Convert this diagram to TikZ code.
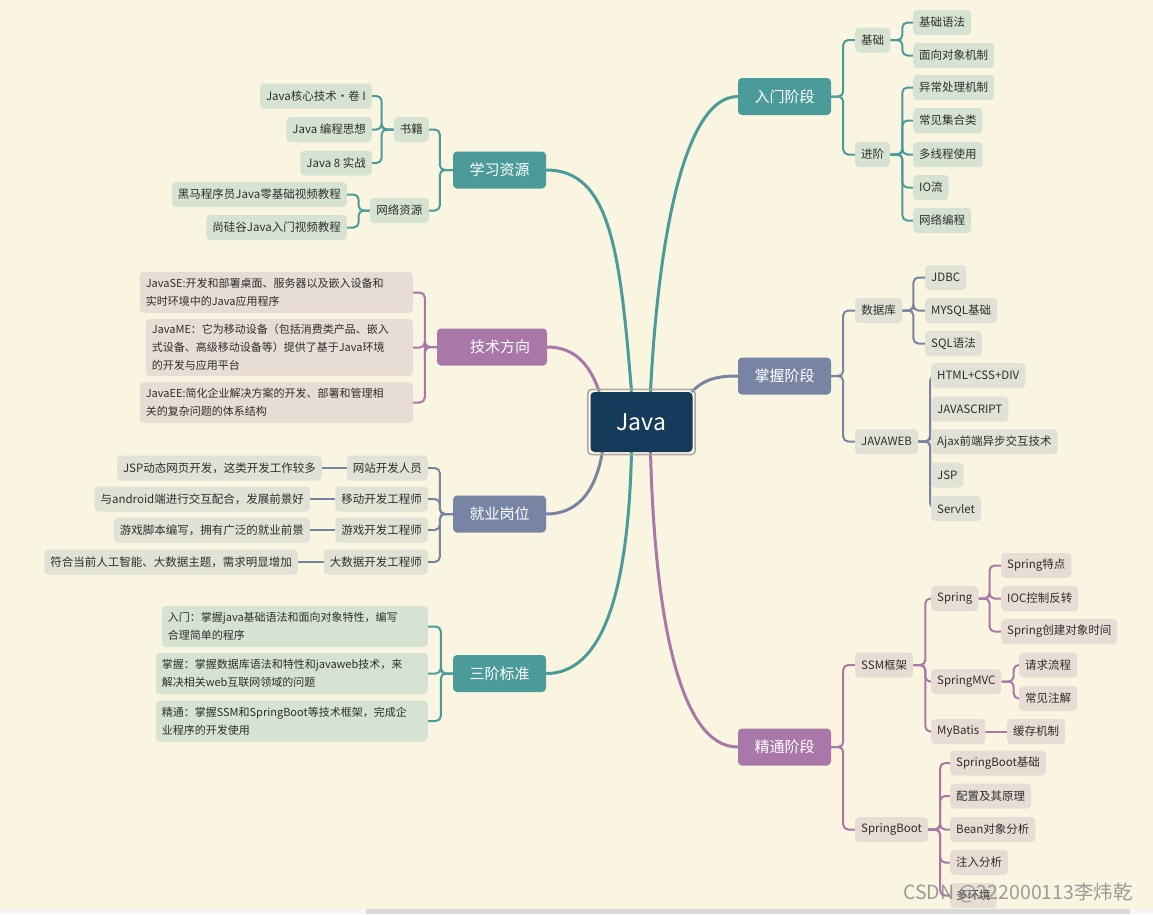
\documentclass[tikz,border=0pt]{standalone}
\usepackage{fontspec}
\setmainfont{Noto Sans CJK SC}
\definecolor{bgc}{HTML}{FAF5E0}
\definecolor{tealD}{HTML}{4C9B9B}
\definecolor{tealL}{HTML}{D6E3D2}
\definecolor{slateD}{HTML}{7884A4}
\definecolor{slateL}{HTML}{E2E1D6}
\definecolor{purpD}{HTML}{A977A8}
\definecolor{purpL}{HTML}{E8DDD4}
\definecolor{navy}{HTML}{163A59}
\definecolor{frame}{HTML}{A9A9A1}
\definecolor{txt}{HTML}{2E2E2E}
\pgfdeclarelayer{bglayer}
\pgfdeclarelayer{edges}
\pgfsetlayers{bglayer,edges,main}
\tikzset{
  leaf/.style={rounded corners=4pt, inner xsep=6pt, inner ysep=0pt, minimum height=25pt,
    font=\fontsize{11.5}{13}\selectfont, text=txt},
  tl/.style={leaf, fill=tealL},
  sl/.style={leaf, fill=slateL},
  pl/.style={leaf, fill=purpL},
  para/.style={rounded corners=4pt, inner xsep=6pt, inner ysep=4pt, align=left,
    font=\fontsize{11}{18}\selectfont, text=txt},
  mainnode/.style={rounded corners=4pt, minimum width=93pt, minimum height=37pt,
    font=\fontsize{15}{18}\selectfont, text=white},
  ct/.style={draw=tealD, line width=2pt, rounded corners=5pt},
  cs/.style={draw=slateD, line width=2pt, rounded corners=5pt},
  cp/.style={draw=purpD, line width=2pt, rounded corners=5pt},
  bt/.style={draw=tealD, line width=3pt},
  bs/.style={draw=slateD, line width=3pt},
  bp/.style={draw=purpD, line width=3pt},
}
\begin{document}
\begin{tikzpicture}[x=1pt,y=-1pt]
\begin{pgfonlayer}{bglayer}
\fill[bgc] (0,0) rectangle (1153,914);
\fill[white!96!black] (0,909) rectangle (1153,914);
\fill[white!85!black] (366,909) rectangle (1130,914);
\end{pgfonlayer}
\useasboundingbox (0,0) rectangle (1153,914);

% center
\node[fill=navy, rounded corners=4pt, minimum width=102pt, minimum height=60pt,
  text=white, font=\fontsize{23}{26}\selectfont] (java) at (641.5,422) {Java};
\draw[frame, line width=1.5pt, rounded corners=4pt]
  ([xshift=-2.5pt,yshift=2.5pt]java.north west) rectangle ([xshift=2.5pt,yshift=-2.5pt]java.south east);

% main nodes
\node[mainnode, fill=tealD] (n1) at (784.5,96.5) {入门阶段};
\node[mainnode, fill=slateD] (n2) at (784.5,376) {掌握阶段};
\node[mainnode, fill=purpD] (n3) at (784.5,747) {精通阶段};
\node[mainnode, fill=tealD] (n4) at (499.5,170) {学习资源};
\node[mainnode, fill=purpD, minimum width=110pt] (n5) at (492,347) {\hspace*{16pt}技术方向};
\node[mainnode, fill=slateD] (n6) at (499.5,514) {就业岗位};
\node[mainnode, fill=tealD] (n7) at (499.5,673.5) {三阶标准};

% 入门阶段
\node[tl, anchor=west, minimum width=35pt] (a1) at (855,40) {基础};
\node[tl, anchor=west, minimum width=35pt] (a2) at (855,154.5) {进阶};
\node[tl, anchor=west] (a11) at (913,22.5) {基础语法};
\node[tl, anchor=west] (a12) at (913,55.5) {面向对象机制};
\node[tl, anchor=west] (a21) at (913,87.5) {异常处理机制};
\node[tl, anchor=west] (a22) at (913,120.5) {常见集合类};
\node[tl, anchor=west] (a23) at (913,154.5) {多线程使用};
\node[tl, anchor=west] (a24) at (913,187.5) {IO流};
\node[tl, anchor=west] (a25) at (913,220.5) {网络编程};

% 掌握阶段
\node[sl, anchor=west, minimum width=47pt] (b1) at (855,310.5) {数据库};
\node[sl, anchor=west, minimum width=52pt] (b2) at (855,441.5) {JAVAWEB};
\node[sl, anchor=west] (b11) at (925,277.5) {JDBC};
\node[sl, anchor=west] (b12) at (925,310.5) {MYSQL基础};
\node[sl, anchor=west] (b13) at (925,343.5) {SQL语法};
\node[sl, anchor=west] (b21) at (931,375.5) {HTML+CSS+DIV};
\node[sl, anchor=west] (b22) at (931,409) {JAVASCRIPT};
\node[sl, anchor=west] (b23) at (931,441.5) {Ajax前端异步交互技术};
\node[sl, anchor=west] (b24) at (931,475) {JSP};
\node[sl, anchor=west] (b25) at (931,508.5) {Servlet};

% 精通阶段
\node[pl, anchor=west, minimum width=52pt] (c1) at (855,665) {SSM框架};
\node[pl, anchor=west, minimum width=71pt] (c2) at (855,829.5) {SpringBoot};
\node[pl, anchor=west, minimum width=47pt] (c11) at (931,598.5) {Spring};
\node[pl, anchor=west, minimum width=65pt] (c12) at (931,681.5) {SpringMVC};
\node[pl, anchor=west, minimum width=52pt] (c13) at (931,731.5) {MyBatis};
\node[pl, anchor=west] (c111) at (1001,565.5) {Spring特点};
\node[pl, anchor=west] (c112) at (1001,598.5) {IOC控制反转};
\node[pl, anchor=west] (c113) at (1001,631.5) {Spring创建对象时间};
\node[pl, anchor=west] (c121) at (1019,665) {请求流程};
\node[pl, anchor=west] (c122) at (1019,698.5) {常见注解};
\node[pl, anchor=west] (c131) at (1007,731.5) {缓存机制};
\node[pl, anchor=west] (c21) at (950,763) {SpringBoot基础};
\node[pl, anchor=west] (c22) at (950,796) {配置及其原理};
\node[pl, anchor=west] (c23) at (950,829.5) {Bean对象分析};
\node[pl, anchor=west] (c24) at (950,862.5) {注入分析};
\node[pl, anchor=west] (c25) at (950,895.5) {多环境};

% 学习资源
\node[tl, anchor=east, minimum width=35pt] (d1) at (429,129.5) {书籍};
\node[tl, anchor=east, minimum width=59pt] (d2) at (429,210.5) {网络资源};
\node[tl, anchor=east] (d11) at (372,96) {Java核心技术•卷 I};
\node[tl, anchor=east] (d12) at (372,129.5) {Java 编程思想};
\node[tl, anchor=east] (d13) at (372,163) {Java 8 实战};
\node[tl, anchor=east] (d21) at (347,194.5) {黑马程序员Java零基础视频教程};
\node[tl, anchor=east] (d22) at (347,227.5) {尚硅谷Java入门视频教程};

% 技术方向
\node[pl, para, anchor=east, text width=261pt, minimum height=41pt] (e1) at (413,292.5)
  {JavaSE:开发和部署桌面、服务器以及嵌入设备和\\实时环境中的Java应用程序};
\node[pl, para, anchor=east, text width=255pt, minimum height=57pt] (e2) at (413,347.5)
  {JavaME：它为移动设备（包括消费类产品、嵌入\\式设备、高级移动设备等）提供了基于Java环境\\的开发与应用平台};
\node[pl, para, anchor=east, text width=261pt, minimum height=41pt] (e3) at (413,402.5)
  {JavaEE:简化企业解决方案的开发、部署和管理相\\关的复杂问题的体系结构};

% 就业岗位
\node[sl, anchor=east] (f1) at (428,468) {网站开发人员};
\node[sl, anchor=east] (f2) at (428,499) {移动开发工程师};
\node[sl, anchor=east] (f3) at (428,530) {游戏开发工程师};
\node[sl, anchor=east] (f4) at (428,562) {大数据开发工程师};
\node[sl, anchor=east] (f11) at (322,468) {JSP动态网页开发，这类开发工作较多};
\node[sl, anchor=east] (f21) at (310,499) {与android端进行交互配合，发展前景好};
\node[sl, anchor=east] (f31) at (310,530) {游戏脚本编写，拥有广泛的就业前景};
\node[sl, anchor=east] (f41) at (298,562) {符合当前人工智能、大数据主题，需求明显增加};

% 三阶标准
\node[tl, para, anchor=east, text width=254pt, minimum height=41pt] (g1) at (428,626.5)
  {入门：掌握java基础语法和面向对象特性，编写\\合理简单的程序};
\node[tl, para, anchor=east, text width=260pt, minimum height=41pt] (g2) at (428,673.5)
  {掌握：掌握数据库语法和特性和javaweb技术，来\\解决相关web互联网领域的问题};
\node[tl, para, anchor=east, text width=260pt, minimum height=41pt] (g3) at (428,721)
  {精通：掌握SSM和SpringBoot等技术框架，完成企\\业程序的开发使用};

% watermark
\node[font=\fontsize{19.5}{20}\selectfont, text=black!45, opacity=0.85] (wm) at (1018,893) {CSDN @222000113李炜乾};

\begin{pgfonlayer}{edges}
% center curves
\draw[bt] ([xshift=-10pt]java.north) .. controls (620,250) and (610,170) .. (n4.east);
\draw[bt] ([xshift=9pt]java.north) .. controls (657,260) and (680,96.5) .. (n1.west);
\draw[bp] ([xshift=9pt]java.north west) .. controls (590,365) and (575,347) .. (n5.east);
\draw[bs] ([xshift=-1pt]java.north east) .. controls (705,378) and (720,376) .. (n2.west);
\draw[bs] ([xshift=12pt]java.south west) .. controls (595,495) and (575,514) .. (n6.east);
\draw[bt] ([xshift=-10pt]java.south) .. controls (628,600) and (600,673.5) .. (n7.east);
\draw[bp] ([xshift=9pt]java.south) .. controls (655,620) and (680,747) .. (n3.west);

% 入门阶段
\foreach \c in {a1,a2} \draw[ct] (n1.east) -- ([xshift=12pt]n1.east) |- (\c.west);
\foreach \c in {a11,a12} \draw[ct] (a1.east) -- ([xshift=12pt]a1.east) |- (\c.west);
\foreach \c in {a21,a22,a23,a24,a25} \draw[ct] (a2.east) -- ([xshift=12pt]a2.east) |- (\c.west);
% 掌握阶段
\foreach \c in {b1,b2} \draw[cs] (n2.east) -- ([xshift=12pt]n2.east) |- (\c.west);
\foreach \c in {b11,b12,b13} \draw[cs] (b1.east) -- ([xshift=11pt]b1.east) |- (\c.west);
\foreach \c in {b21,b22,b23,b24,b25} \draw[cs] (b2.east) -- ([xshift=12pt]b2.east) |- (\c.west);
% 精通阶段
\foreach \c in {c1,c2} \draw[cp] (n3.east) -- ([xshift=12pt]n3.east) |- (\c.west);
\foreach \c in {c11,c12,c13} \draw[cp] (c1.east) -- ([xshift=12pt]c1.east) |- (\c.west);
\foreach \c in {c111,c112,c113} \draw[cp] (c11.east) -- ([xshift=11pt]c11.east) |- (\c.west);
\foreach \c in {c121,c122} \draw[cp] (c12.east) -- ([xshift=12pt]c12.east) |- (\c.west);
\draw[cp] (c13.east) -- (c131.west);
\foreach \c in {c21,c22,c23,c24,c25} \draw[cp] (c2.east) -- ([xshift=12pt]c2.east) |- (\c.west);
% 学习资源
\foreach \c in {d1,d2} \draw[ct] (n4.west) -- ([xshift=-13pt]n4.west) |- (\c.east);
\foreach \c in {d11,d12,d13} \draw[ct] (d1.west) -- ([xshift=-12pt]d1.west) |- (\c.east);
\foreach \c in {d21,d22} \draw[ct] (d2.west) -- ([xshift=-11pt]d2.west) |- (\c.east);
% 技术方向
\foreach \c in {e1,e2,e3} \draw[cp] (n5.west) -- ([xshift=-12pt]n5.west) |- (\c.east);
% 就业岗位
\foreach \c in {f1,f2,f3,f4} \draw[cs] (n6.west) -- ([xshift=-13pt]n6.west) |- (\c.east);
\draw[cs] (f1.west) -- (f11.east);
\draw[cs] (f2.west) -- (f21.east);
\draw[cs] (f3.west) -- (f31.east);
\draw[cs] (f4.west) -- (f41.east);
% 三阶标准
\foreach \c in {g1,g2,g3} \draw[ct] (n7.west) -- ([xshift=-12pt]n7.west) |- (\c.east);
\end{pgfonlayer}
\end{tikzpicture}
\end{document}
